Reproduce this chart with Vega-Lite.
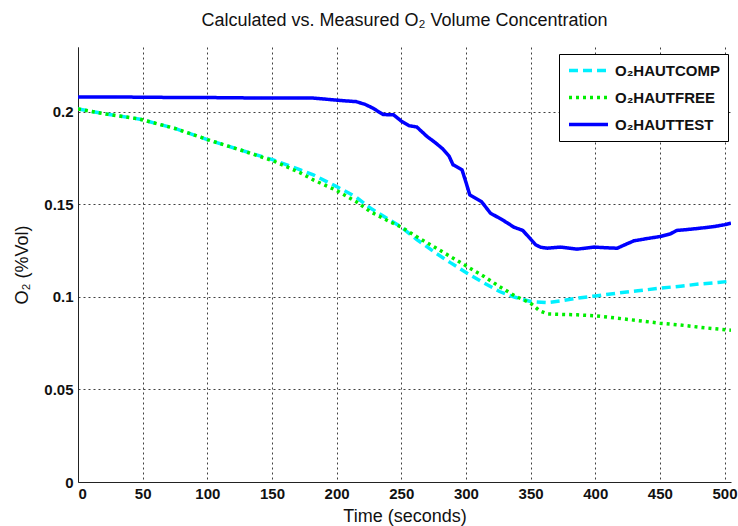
{
  "$schema": "https://vega.github.io/schema/vega-lite/v6.json",
  "width": 653,
  "height": 435,
  "autosize": {"type": "none"},
  "padding": {"left": 78, "top": 47, "right": 7, "bottom": 44},
  "background": "white",
  "title": {
    "text": "Calculated vs. Measured O₂ Volume Concentration",
    "font": "Liberation Sans",
    "fontSize": 18,
    "fontWeight": "normal",
    "color": "#111",
    "offset": 17,
    "anchor": "middle"
  },
  "config": {
    "view": {"stroke": null},
    "axis": {
      "labelFont": "Liberation Sans",
      "labelFontWeight": "bold",
      "labelFontSize": 15,
      "labelColor": "#111",
      "titleFont": "Liberation Sans",
      "titleFontWeight": "normal",
      "titleFontSize": 18,
      "titleColor": "#111",
      "domainColor": "#222",
      "domainWidth": 1,
      "ticks": false,
      "grid": true,
      "gridColor": "#000",
      "gridDash": [2, 3],
      "gridOpacity": 0.75,
      "gridWidth": 1
    }
  },
  "data": {
    "values": [
      {"t": 0, "series": "O₂HAUTTEST", "v": 0.2080},
      {"t": 30, "series": "O₂HAUTTEST", "v": 0.2080},
      {"t": 60, "series": "O₂HAUTTEST", "v": 0.2078},
      {"t": 100, "series": "O₂HAUTTEST", "v": 0.2077},
      {"t": 130, "series": "O₂HAUTTEST", "v": 0.2075},
      {"t": 160, "series": "O₂HAUTTEST", "v": 0.2075},
      {"t": 182, "series": "O₂HAUTTEST", "v": 0.2074},
      {"t": 195, "series": "O₂HAUTTEST", "v": 0.2066},
      {"t": 205, "series": "O₂HAUTTEST", "v": 0.2060},
      {"t": 215, "series": "O₂HAUTTEST", "v": 0.2055},
      {"t": 222, "series": "O₂HAUTTEST", "v": 0.2040},
      {"t": 228, "series": "O₂HAUTTEST", "v": 0.2020},
      {"t": 236, "series": "O₂HAUTTEST", "v": 0.1985},
      {"t": 244, "series": "O₂HAUTTEST", "v": 0.1984},
      {"t": 250, "series": "O₂HAUTTEST", "v": 0.1950},
      {"t": 256, "series": "O₂HAUTTEST", "v": 0.1925},
      {"t": 262, "series": "O₂HAUTTEST", "v": 0.1918},
      {"t": 270, "series": "O₂HAUTTEST", "v": 0.1866},
      {"t": 276, "series": "O₂HAUTTEST", "v": 0.1835},
      {"t": 282, "series": "O₂HAUTTEST", "v": 0.1800},
      {"t": 287, "series": "O₂HAUTTEST", "v": 0.1760},
      {"t": 290, "series": "O₂HAUTTEST", "v": 0.1714},
      {"t": 297, "series": "O₂HAUTTEST", "v": 0.1686},
      {"t": 300, "series": "O₂HAUTTEST", "v": 0.1620},
      {"t": 303, "series": "O₂HAUTTEST", "v": 0.1551},
      {"t": 312, "series": "O₂HAUTTEST", "v": 0.1515},
      {"t": 319, "series": "O₂HAUTTEST", "v": 0.1452},
      {"t": 326, "series": "O₂HAUTTEST", "v": 0.1425},
      {"t": 332, "series": "O₂HAUTTEST", "v": 0.1400},
      {"t": 337, "series": "O₂HAUTTEST", "v": 0.1377},
      {"t": 344, "series": "O₂HAUTTEST", "v": 0.1359},
      {"t": 349, "series": "O₂HAUTTEST", "v": 0.1320},
      {"t": 354, "series": "O₂HAUTTEST", "v": 0.1281},
      {"t": 358, "series": "O₂HAUTTEST", "v": 0.1268},
      {"t": 363, "series": "O₂HAUTTEST", "v": 0.1263},
      {"t": 373, "series": "O₂HAUTTEST", "v": 0.1269},
      {"t": 386, "series": "O₂HAUTTEST", "v": 0.1258},
      {"t": 399, "series": "O₂HAUTTEST", "v": 0.1269},
      {"t": 410, "series": "O₂HAUTTEST", "v": 0.1265},
      {"t": 417, "series": "O₂HAUTTEST", "v": 0.1263},
      {"t": 424, "series": "O₂HAUTTEST", "v": 0.1285},
      {"t": 430, "series": "O₂HAUTTEST", "v": 0.1303},
      {"t": 440, "series": "O₂HAUTTEST", "v": 0.1315},
      {"t": 450, "series": "O₂HAUTTEST", "v": 0.1326},
      {"t": 458, "series": "O₂HAUTTEST", "v": 0.1340},
      {"t": 463, "series": "O₂HAUTTEST", "v": 0.1359},
      {"t": 470, "series": "O₂HAUTTEST", "v": 0.1363},
      {"t": 481, "series": "O₂HAUTTEST", "v": 0.1371},
      {"t": 492, "series": "O₂HAUTTEST", "v": 0.1380},
      {"t": 500, "series": "O₂HAUTTEST", "v": 0.1390},
      {"t": 505, "series": "O₂HAUTTEST", "v": 0.1398},

      {"t": 0, "series": "O₂HAUTCOMP", "v": 0.2015},
      {"t": 20, "series": "O₂HAUTCOMP", "v": 0.1990},
      {"t": 48, "series": "O₂HAUTCOMP", "v": 0.1960},
      {"t": 75, "series": "O₂HAUTCOMP", "v": 0.1910},
      {"t": 100, "series": "O₂HAUTCOMP", "v": 0.1850},
      {"t": 125, "series": "O₂HAUTCOMP", "v": 0.1795},
      {"t": 151, "series": "O₂HAUTCOMP", "v": 0.1740},
      {"t": 172, "series": "O₂HAUTCOMP", "v": 0.1686},
      {"t": 182, "series": "O₂HAUTCOMP", "v": 0.1659},
      {"t": 200, "series": "O₂HAUTCOMP", "v": 0.1596},
      {"t": 215, "series": "O₂HAUTCOMP", "v": 0.1540},
      {"t": 226, "series": "O₂HAUTCOMP", "v": 0.1480},
      {"t": 240, "series": "O₂HAUTCOMP", "v": 0.1420},
      {"t": 250, "series": "O₂HAUTCOMP", "v": 0.1377},
      {"t": 262, "series": "O₂HAUTCOMP", "v": 0.1310},
      {"t": 275, "series": "O₂HAUTCOMP", "v": 0.1245},
      {"t": 288, "series": "O₂HAUTCOMP", "v": 0.1185},
      {"t": 301, "series": "O₂HAUTCOMP", "v": 0.1128},
      {"t": 314, "series": "O₂HAUTCOMP", "v": 0.1075},
      {"t": 326, "series": "O₂HAUTCOMP", "v": 0.1029},
      {"t": 338, "series": "O₂HAUTCOMP", "v": 0.0998},
      {"t": 350, "series": "O₂HAUTCOMP", "v": 0.0975},
      {"t": 363, "series": "O₂HAUTCOMP", "v": 0.0969},
      {"t": 375, "series": "O₂HAUTCOMP", "v": 0.0980},
      {"t": 386, "series": "O₂HAUTCOMP", "v": 0.0993},
      {"t": 400, "series": "O₂HAUTCOMP", "v": 0.1005},
      {"t": 417, "series": "O₂HAUTCOMP", "v": 0.1020},
      {"t": 433, "series": "O₂HAUTCOMP", "v": 0.1033},
      {"t": 450, "series": "O₂HAUTCOMP", "v": 0.1047},
      {"t": 466, "series": "O₂HAUTCOMP", "v": 0.1058},
      {"t": 481, "series": "O₂HAUTCOMP", "v": 0.1070},
      {"t": 495, "series": "O₂HAUTCOMP", "v": 0.1078},
      {"t": 505, "series": "O₂HAUTCOMP", "v": 0.1085},

      {"t": 0, "series": "O₂HAUTFREE", "v": 0.2015},
      {"t": 20, "series": "O₂HAUTFREE", "v": 0.1990},
      {"t": 48, "series": "O₂HAUTFREE", "v": 0.1960},
      {"t": 75, "series": "O₂HAUTFREE", "v": 0.1910},
      {"t": 100, "series": "O₂HAUTFREE", "v": 0.1850},
      {"t": 125, "series": "O₂HAUTFREE", "v": 0.1795},
      {"t": 151, "series": "O₂HAUTFREE", "v": 0.1735},
      {"t": 172, "series": "O₂HAUTFREE", "v": 0.1670},
      {"t": 182, "series": "O₂HAUTFREE", "v": 0.1632},
      {"t": 200, "series": "O₂HAUTFREE", "v": 0.1575},
      {"t": 215, "series": "O₂HAUTFREE", "v": 0.1515},
      {"t": 226, "series": "O₂HAUTFREE", "v": 0.1461},
      {"t": 240, "series": "O₂HAUTFREE", "v": 0.1410},
      {"t": 250, "series": "O₂HAUTFREE", "v": 0.1377},
      {"t": 262, "series": "O₂HAUTFREE", "v": 0.1325},
      {"t": 275, "series": "O₂HAUTFREE", "v": 0.1272},
      {"t": 288, "series": "O₂HAUTFREE", "v": 0.1218},
      {"t": 301, "series": "O₂HAUTFREE", "v": 0.1164},
      {"t": 314, "series": "O₂HAUTFREE", "v": 0.1110},
      {"t": 326, "series": "O₂HAUTFREE", "v": 0.1056},
      {"t": 338, "series": "O₂HAUTFREE", "v": 0.1005},
      {"t": 350, "series": "O₂HAUTFREE", "v": 0.0966},
      {"t": 357, "series": "O₂HAUTFREE", "v": 0.0925},
      {"t": 363, "series": "O₂HAUTFREE", "v": 0.0908},
      {"t": 386, "series": "O₂HAUTFREE", "v": 0.0903},
      {"t": 400, "series": "O₂HAUTFREE", "v": 0.0898},
      {"t": 417, "series": "O₂HAUTFREE", "v": 0.0885},
      {"t": 433, "series": "O₂HAUTFREE", "v": 0.0872},
      {"t": 450, "series": "O₂HAUTFREE", "v": 0.0858},
      {"t": 466, "series": "O₂HAUTFREE", "v": 0.0848},
      {"t": 481, "series": "O₂HAUTFREE", "v": 0.0836},
      {"t": 495, "series": "O₂HAUTFREE", "v": 0.0826},
      {"t": 505, "series": "O₂HAUTFREE", "v": 0.0820}
    ]
  },
  "mark": {"type": "line", "strokeWidth": 3.5, "clip": true},
  "encoding": {
    "x": {
      "field": "t",
      "type": "quantitative",
      "scale": {"domain": [0, 505], "nice": false, "zero": false},
      "axis": {
        "title": "Time (seconds)",
        "values": [0, 50, 100, 150, 200, 250, 300, 350, 400, 450, 500],
        "labelPadding": 4,
        "titlePadding": 6
      }
    },
    "y": {
      "field": "v",
      "type": "quantitative",
      "scale": {"domain": [0, 0.235], "nice": false},
      "axis": {
        "title": "O₂ (%Vol)",
        "values": [0, 0.05, 0.1, 0.15, 0.2],
        "format": ".2~f",
        "labelPadding": 5,
        "titlePadding": 12
      }
    },
    "color": {
      "field": "series",
      "type": "nominal",
      "scale": {
        "domain": ["O₂HAUTCOMP", "O₂HAUTFREE", "O₂HAUTTEST"],
        "range": ["#00f0ff", "#00ee00", "#0000ff"]
      },
      "legend": {
        "title": null,
        "orient": "none",
        "legendX": 481,
        "legendY": 7,
        "direction": "vertical",
        "symbolType": "M-1,0H5",
        "symbolSize": 169,
        "symbolStrokeWidth": 3.5,
        "labelFont": "Liberation Sans",
        "labelFontWeight": "bold",
        "labelFontSize": 15,
        "labelColor": "#111",
        "labelOffset": 31,
        "rowPadding": 10,
        "padding": 8,
        "strokeColor": "#000",
        "fillColor": "white",
        "cornerRadius": 0
      }
    },
    "strokeDash": {
      "field": "series",
      "type": "nominal",
      "scale": {
        "domain": ["O₂HAUTCOMP", "O₂HAUTFREE", "O₂HAUTTEST"],
        "range": [[9, 5], [3, 4], [1, 0]]
      },
      "legend": null
    },
    "order": {"field": "t", "type": "quantitative"}
  }
}
